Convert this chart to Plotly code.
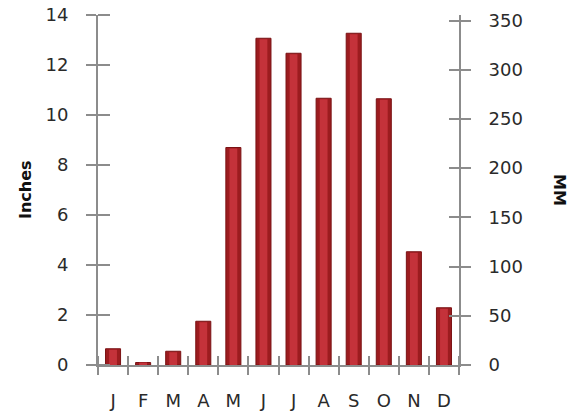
import plotly.graph_objects as go

months = ["J", "F", "M", "A", "M", "J", "J", "A", "S", "O", "N", "D"]
inches = [0.65, 0.1, 0.55, 1.75, 8.7, 13.07, 12.47, 10.67, 13.27, 10.65, 4.53, 2.29]
left_ticks = [0, 2, 4, 6, 8, 10, 12, 14]
right_ticks = [0, 50, 100, 150, 200, 250, 300, 350]
MM_PER_INCH = 25.4
LEFT_MAX = 14

W, H = 580, 417
ML, MR, MT, MB = 98, 121, 15, 52
PW, PH = W - ML - MR, H - MT - MB

pos = list(range(len(months)))
bounds = [p - 0.5 for p in pos] + [pos[-1] + 0.5]
mm = [v * MM_PER_INCH for v in inches]

fig = go.Figure()
fig.add_trace(go.Bar(x=pos, y=inches, width=0.5,
                     marker=dict(color="#9c1c1f", line=dict(color="#7a1214", width=1)),
                     hoverinfo="y", showlegend=False))
fig.add_trace(go.Bar(x=pos, y=[v - 0.04 if v > 0.2 else v for v in inches], width=0.26,
                     marker=dict(color="#c4323a", line=dict(width=0)),
                     hoverinfo="skip", showlegend=False))
# invisible carriers so the overlaid tick axes render
inv = dict(mode="markers", marker=dict(opacity=0), hoverinfo="skip", showlegend=False)
fig.add_trace(go.Scatter(x=pos, y=mm, xaxis="x", yaxis="y2", **inv))
fig.add_trace(go.Scatter(x=pos, y=inches, xaxis="x", yaxis="y3", **inv))
fig.add_trace(go.Scatter(x=pos, y=mm, xaxis="x", yaxis="y4", **inv))
fig.add_trace(go.Scatter(x=pos, y=inches, xaxis="x2", yaxis="y", **inv))
fig.add_trace(go.Scatter(x=pos, y=inches, xaxis="x3", yaxis="y", **inv))

axis_col = "#8c8c8c"
tick_font = dict(family="DejaVu Sans", size=18, color="#2a2a2a")
title_font = dict(family="DejaVu Sans", size=16, color="#111")
xr = [-0.5, len(months) - 0.5]
common = dict(showgrid=False, zeroline=False, automargin=False)

fig.update_layout(
    width=W, height=H,
    margin=dict(l=ML, r=MR, t=MT, b=MB),
    paper_bgcolor="white", plot_bgcolor="white",
    barmode="overlay",
    # main x: month labels at centres
    xaxis=dict(range=xr, tickvals=pos, ticktext=months, ticks="", tickfont=tick_font,
               ticklabelstandoff=18, showline=True, linecolor=axis_col, linewidth=2,
               anchor="y", **common),
    # boundary ticks pointing down
    xaxis2=dict(range=xr, overlaying="x", side="bottom", anchor="y", tickvals=bounds,
                ticks="outside", ticklen=9, tickwidth=2, tickcolor=axis_col,
                showticklabels=False, showline=False, **common),
    # boundary ticks pointing up (free axis lifted 10px)
    xaxis3=dict(range=xr, overlaying="x", side="bottom", anchor="free",
                position=10 / PH, tickvals=bounds, ticks="outside", ticklen=10,
                tickwidth=2, tickcolor=axis_col, showticklabels=False, showline=False,
                **common),
    yaxis=dict(range=[0, LEFT_MAX], tickvals=left_ticks, ticks="outside", ticklen=10,
               tickwidth=2, tickcolor=axis_col, showline=True, linecolor=axis_col,
               linewidth=2, tickfont=tick_font, ticklabelstandoff=14, anchor="x", **common),
    # left ticks pointing right (free axis shifted 12px)
    yaxis3=dict(range=[0, LEFT_MAX], overlaying="y", side="left", anchor="free",
                position=12 / PW, tickvals=left_ticks, ticks="outside", ticklen=12,
                tickwidth=2, tickcolor=axis_col, showticklabels=False, showline=False,
                **common),
    yaxis2=dict(range=[0, LEFT_MAX * MM_PER_INCH], overlaying="y", side="right", anchor="x",
                tickvals=right_ticks, ticks="outside", ticklen=10, tickwidth=2,
                tickcolor=axis_col, showline=True, linecolor=axis_col, linewidth=2,
                tickfont=tick_font, ticklabelstandoff=14, **common),
    yaxis4=dict(range=[0, LEFT_MAX * MM_PER_INCH], overlaying="y", side="right", anchor="x",
                tickvals=right_ticks, ticks="inside", ticklen=10, tickwidth=2,
                tickcolor=axis_col, showticklabels=False, showline=False, **common),
    annotations=[
        dict(text="<b>Inches</b>", xref="paper", yref="paper", x=0, y=0.5,
             xanchor="center", yanchor="middle", xshift=-73, textangle=-90,
             showarrow=False, font=title_font),
        dict(text="<b>MM</b>", xref="paper", yref="paper", x=1.0, y=0.5,
             xanchor="center", yanchor="middle", xshift=101, textangle=90,
             showarrow=False, font=title_font),
    ],
)

fig.write_html("out.html")
